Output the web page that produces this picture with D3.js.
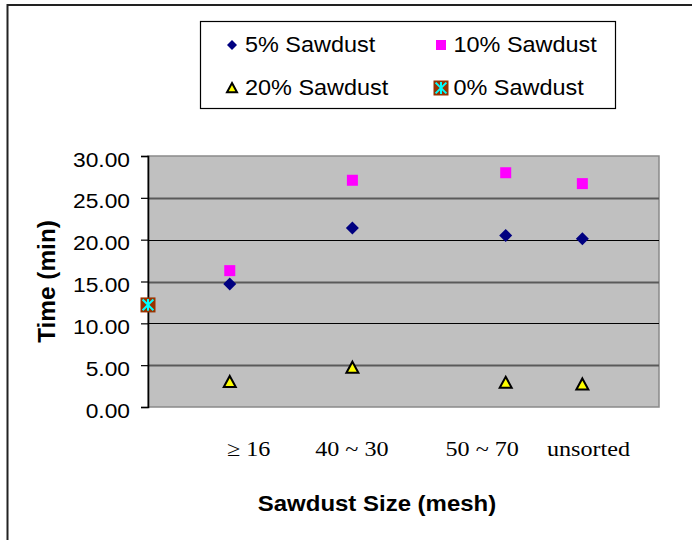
<!DOCTYPE html>
<html>
<head>
<meta charset="utf-8">
<script src="https://cdn.jsdelivr.net/npm/d3@7"></script>
<style>
  html, body { margin: 0; padding: 0; background: #fff; }
  svg { display: block; }
</style>
</head>
<body>
<svg id="chart" width="692" height="540"></svg>
<script>
// Mixing time by sawdust size and sawdust content
const sizeLabels = ["\u2265 16", "40 ~ 30", "50 ~ 70", "unsorted"];
const sizeX = [16, 40, 70, 85];           // position of each size group on the x scale
const labelX = [19.6, 39.8, 65.3, 86.1];  // where each size label sits on the x scale
const sawdust5 = [14.7, 21.4, 20.5, 20.1];
const sawdust10 = [16.3, 27.1, 28.0, 26.7];
const sawdust20 = [3.0, 4.7, 2.9, 2.7];
const sawdust0X = [0];
const sawdust0 = [12.2];
const yTicks = [0, 5, 10, 15, 20, 25, 30];
const seriesNames = ["5% Sawdust", "10% Sawdust", "20% Sawdust", "0% Sawdust"];

const svg = d3.select("#chart");
const W = 692, H = 540;
const plot = { left: 148, right: 659, top: 156, bottom: 407 };

// outer frame (only top and left edges fall inside the view)
svg.append("rect")
  .attr("x", 7.5).attr("y", 5)
  .attr("width", 720).attr("height", 600)
  .attr("fill", "#fff").attr("stroke", "#222").attr("stroke-width", 2);

const x = d3.scaleLinear().domain([0, 100]).range([plot.left, plot.right]);
const y = d3.scaleLinear().domain([0, 30]).range([plot.bottom, plot.top]);

// plot area background
svg.append("rect")
  .attr("x", plot.left).attr("y", plot.top)
  .attr("width", plot.right - plot.left).attr("height", plot.bottom - plot.top)
  .attr("fill", "#C0C0C0").attr("stroke", "#8a8a8a").attr("stroke-width", 1.5);

// horizontal gridlines
svg.append("g")
  .selectAll("line")
  .data(yTicks.filter(t => t > 0 && t < 30))
  .join("line")
  .attr("x1", plot.left).attr("x2", plot.right)
  .attr("y1", d => Math.round(y(d)) + 0.5).attr("y2", d => Math.round(y(d)) + 0.5)
  .attr("stroke", d => (d % 10 === 0) ? "#000" : "#5a5a5a")
  .attr("stroke-width", d => (d % 10 === 0) ? 1.2 : 2);

// y axis
const yAxis = svg.append("g")
  .attr("transform", `translate(${plot.left},0)`)
  .call(d3.axisLeft(y).tickValues(yTicks).tickSize(7).tickFormat(d3.format(".2f")));
yAxis.select(".domain").attr("stroke", "#000").attr("stroke-width", 1.6);
yAxis.selectAll(".tick line").attr("stroke", "#000").attr("stroke-width", 1.2);
yAxis.selectAll(".tick text")
  .attr("font-family", "Liberation Sans, Arial, sans-serif")
  .attr("font-size", 21)
  .attr("fill", "#000")
  .attr("text-anchor", "end")
  .attr("x", null).attr("dy", null)
  .attr("transform", "translate(-18,10) scale(1.085,1)");

// x axis labels
const xAxis = svg.append("g")
  .attr("transform", `translate(0,${plot.bottom})`)
  .call(d3.axisBottom(x).tickValues(labelX).tickSize(0)
    .tickFormat((d, i) => sizeLabels[i]));
xAxis.select(".domain").remove();
xAxis.selectAll(".tick text")
  .attr("font-family", "Liberation Serif, Times New Roman, serif")
  .attr("font-size", 21)
  .attr("fill", "#000")
  .attr("y", null).attr("dy", null)
  .attr("text-anchor", "middle")
  .attr("transform", "translate(0,49) scale(1.15,1)");

// axis titles
svg.append("text")
  .attr("font-family", "Liberation Sans, Arial, sans-serif")
  .attr("font-weight", "bold").attr("font-size", 22)
  .attr("text-anchor", "middle")
  .attr("transform", "translate(377,511) scale(1.09,1)")
  .text("Sawdust Size (mesh)");
svg.append("text")
  .attr("font-family", "Liberation Sans, Arial, sans-serif")
  .attr("font-weight", "bold").attr("font-size", 23)
  .attr("text-anchor", "middle")
  .attr("transform", "translate(55,281.5) rotate(-90) scale(1.06,1)")
  .text("Time (min)");

// marker shapes
const markers = {
  diamond: (g, s) => g.append("path")
    .attr("d", `M0,${-s}L${s},0L0,${s}L${-s},0Z`)
    .attr("fill", "#000080"),
  square: (g, s) => g.append("rect")
    .attr("x", -s).attr("y", -s).attr("width", 2 * s).attr("height", 2 * s)
    .attr("fill", "#FF00FF"),
  triangle: (g, s) => g.append("path")
    .attr("d", `M0,${-s}L${s},${s * 0.85}L${-s},${s * 0.85}Z`)
    .attr("fill", "#FFFF00").attr("stroke", "#000").attr("stroke-width", 2)
    .attr("stroke-linejoin", "miter"),
  star: (g, s) => {
    g.append("rect")
      .attr("x", -s).attr("y", -s).attr("width", 2 * s).attr("height", 2 * s)
      .attr("fill", "#993300");
    const r = s * 0.72;
    g.append("path")
      .attr("d", `M${-r},${-r}L${r},${r}M${r},${-r}L${-r},${r}M0,${-r * 1.1}L0,${r * 1.1}`)
      .attr("stroke", "#00FFFF").attr("stroke-width", 2).attr("fill", "none");
  }
};

function drawSeries(xs, ys, kind, size) {
  const g = svg.append("g");
  g.selectAll("g")
    .data(ys.map((v, i) => ({ x: xs[i], v })))
    .join("g")
    .attr("transform", d => `translate(${x(d.x)},${y(d.v)})`)
    .each(function () { markers[kind](d3.select(this), size); });
}

drawSeries(sizeX, sawdust5, "diamond", 6.5);
drawSeries(sizeX, sawdust10, "square", 5.5);
drawSeries(sizeX, sawdust20, "triangle", 6);
drawSeries(sawdust0X, sawdust0, "star", 7.5);

// legend
const legend = svg.append("g");
legend.append("rect")
  .attr("x", 200.5).attr("y", 21.5).attr("width", 415).attr("height", 87)
  .attr("fill", "#fff").attr("stroke", "#000").attr("stroke-width", 1.2);
const legKinds = [["diamond", 5], ["square", 5], ["triangle", 5], ["star", 7.5]];
const legCols = [232, 441];
const legRows = [45, 88];
seriesNames.forEach((name, i) => {
  const cx = legCols[i % 2], cy = legRows[Math.floor(i / 2)];
  const g = legend.append("g").attr("transform", `translate(${cx},${cy})`);
  markers[legKinds[i][0]](g, legKinds[i][1]);
  legend.append("text")
    .attr("font-family", "Liberation Sans, Arial, sans-serif")
    .attr("font-size", 22)
    .attr("fill", "#000")
    .attr("transform", `translate(${cx + (i % 2 ? 12.5 : 13)},${cy + 7}) scale(1.065,1)`)
    .text(name);
});
</script>
</body>
</html>
